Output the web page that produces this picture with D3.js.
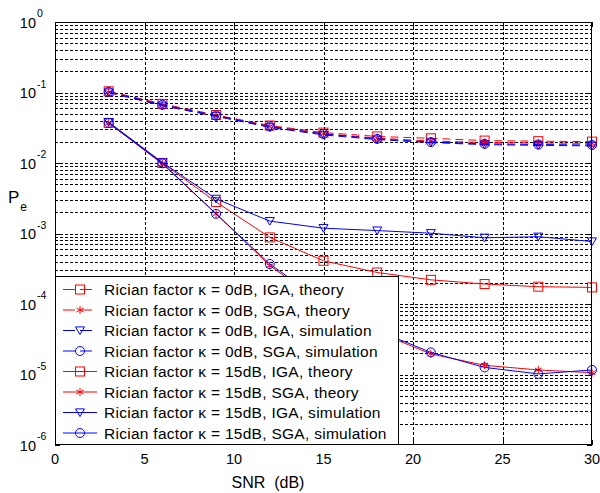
<!DOCTYPE html>
<html>
<head>
<meta charset="utf-8">
<script src="https://cdn.jsdelivr.net/npm/d3@7"></script>
<style>
  html, body { margin: 0; padding: 0; background: #fff; }
  svg { display: block; }
  text { font-family: Arial, "Liberation Sans", sans-serif; }
</style>
</head>
<body>
<svg id="chart" width="600" height="493"></svg>
<script>
// SNR sample points (dB)
const snr = [3, 6, 9, 12, 15, 18, 21, 24, 27, 30];

// Rician factor 0 dB
const iga0Theory = [0.104, 0.069, 0.048, 0.034, 0.027, 0.0238, 0.0224, 0.0208, 0.0204, 0.0201];
const sga0Theory = [0.101, 0.066, 0.046, 0.033, 0.026, 0.0225, 0.0205, 0.0195, 0.0192, 0.0190];
const iga0Sim    = [0.100, 0.065, 0.046, 0.032, 0.025, 0.0215, 0.0195, 0.0182, 0.0178, 0.0175];
const sga0Sim    = [0.102, 0.067, 0.047, 0.033, 0.0258, 0.022, 0.0198, 0.0187, 0.0183, 0.0180];

// Rician factor 15 dB
const iga15Theory = [0.037, 0.0100, 0.0028, 0.00088, 0.00041, 0.00028, 0.00022, 0.000192, 0.000176, 0.000172];
const sga15Theory = [0.037, 0.0097, 0.0019, 0.00035, 0.000100, 0.000040, 0.0000196, 0.0000135, 0.0000116, 0.0000106];
const iga15Sim    = [0.038, 0.0102, 0.0031, 0.0015, 0.00119, 0.0011, 0.00101, 0.00087, 0.00090, 0.00077];
const sga15Sim    = [0.037, 0.0099, 0.0019, 0.00037, 0.000105, 0.000042, 0.0000206, 0.0000126, 0.0000102, 0.0000116];

// Axis ticks
const xTicks = [0, 5, 10, 15, 20, 25, 30];
const yExponents = [0, -1, -2, -3, -4, -5, -6];

const legendLabels = [
  "Rician factor \u03ba = 0dB, IGA, theory",
  "Rician factor \u03ba = 0dB, SGA, theory",
  "Rician factor \u03ba = 0dB, IGA, simulation",
  "Rician factor \u03ba = 0dB, SGA, simulation",
  "Rician factor \u03ba = 15dB, IGA, theory",
  "Rician factor \u03ba = 15dB, SGA, theory",
  "Rician factor \u03ba = 15dB, IGA, simulation",
  "Rician factor \u03ba = 15dB, SGA, simulation"
];

const RED = "#ff0000", BLUE = "#0000ff";
const series = [
  { values: iga0Theory,  color: RED,  marker: "square",   dashed: true },
  { values: sga0Theory,  color: RED,  marker: "star",     dashed: true },
  { values: iga0Sim,     color: BLUE, marker: "triangle", dashed: true },
  { values: sga0Sim,     color: BLUE, marker: "circle",   dashed: true },
  { values: iga15Theory, color: RED,  marker: "square",   dashed: false },
  { values: sga15Theory, color: RED,  marker: "star",     dashed: false },
  { values: iga15Sim,    color: BLUE, marker: "triangle", dashed: false },
  { values: sga15Sim,    color: BLUE, marker: "circle",   dashed: false }
];

const svg = d3.select("#chart");
const L = 55, R = 592, T = 22, B = 445;

const x = d3.scaleLinear().domain([0, 30]).range([L, R]);
const y = d3.scaleLog().domain([1e-6, 1]).range([B, T]);

// grid
const grid = svg.append("g").attr("stroke", "#000").attr("stroke-width", 1)
  .attr("stroke-dasharray", "3,2").attr("fill", "none");
const yGrid = [];
for (let e = -6; e < 0; e++) for (let m = 1; m <= 9; m++) yGrid.push(m * Math.pow(10, e));
yGrid.filter(v => v > 1e-6 && v < 1).forEach(v => {
  const yy = Math.round(y(v)) + 0.5;
  grid.append("line").attr("x1", L).attr("x2", R).attr("y1", yy).attr("y2", yy);
});
xTicks.slice(1, -1).forEach(v => {
  const xx = Math.round(x(v)) + 0.5;
  grid.append("line").attr("x1", xx).attr("x2", xx).attr("y1", T).attr("y2", B);
});

// marker drawing
function drawMarker(g, type, cx, cy, color) {
  const s = 4.5;
  if (type === "square") {
    g.append("rect").attr("x", cx - s).attr("y", cy - s).attr("width", 2 * s).attr("height", 2 * s)
      .attr("fill", "none").attr("stroke", color);
  } else if (type === "circle") {
    g.append("circle").attr("cx", cx).attr("cy", cy).attr("r", s)
      .attr("fill", "none").attr("stroke", color);
  } else if (type === "triangle") {
    g.append("path").attr("d", `M${cx - s},${cy - s * 0.8}L${cx + s},${cy - s * 0.8}L${cx},${cy + s * 0.9}Z`)
      .attr("fill", "none").attr("stroke", color);
  } else if (type === "star") {
    const r = 4;
    const d = `M${cx},${cy - r}L${cx},${cy + r}` +
      `M${cx - r * 0.87},${cy - r * 0.5}L${cx + r * 0.87},${cy + r * 0.5}` +
      `M${cx - r * 0.87},${cy + r * 0.5}L${cx + r * 0.87},${cy - r * 0.5}`;
    g.append("path").attr("d", d).attr("stroke", color).attr("fill", "none");
  }
}

const line = d3.line().x((d, i) => x(snr[i])).y(d => y(d));
const plot = svg.append("g");
series.forEach(s => {
  plot.append("path").datum(s.values).attr("d", line)
    .attr("fill", "none").attr("stroke", s.color).attr("stroke-width", 1)
    .attr("stroke-dasharray", s.dashed ? "8,5" : null);
  const mg = plot.append("g");
  s.values.forEach((v, i) => drawMarker(mg, s.marker, x(snr[i]), y(v), s.color));
});

// axes box and ticks
svg.append("rect").attr("x", L + 0.5).attr("y", T + 0.5).attr("width", R - L - 1).attr("height", B - T - 1)
  .attr("fill", "none").attr("stroke", "#000");
const ticks = svg.append("g").attr("stroke", "#000");
xTicks.forEach(v => {
  const xx = Math.round(x(v)) + 0.5;
  ticks.append("line").attr("x1", xx).attr("x2", xx).attr("y1", B).attr("y2", B - 5);
  ticks.append("line").attr("x1", xx).attr("x2", xx).attr("y1", T).attr("y2", T + 5);
});
yExponents.forEach(e => {
  const yy = Math.round(y(Math.pow(10, e))) + 0.5;
  ticks.append("line").attr("x1", L).attr("x2", L + 5).attr("y1", yy).attr("y2", yy);
  ticks.append("line").attr("x1", R - 5).attr("x2", R).attr("y1", yy).attr("y2", yy);
});

// tick labels
svg.append("g").selectAll("text").data(xTicks).join("text")
  .attr("x", d => x(d)).attr("y", 464).attr("text-anchor", "middle")
  .attr("font-size", 14.5).attr("fill", "#000").text(d => d);

const yl = svg.append("g");
yExponents.forEach(e => {
  const yy = y(Math.pow(10, e));
  yl.append("text").attr("x", 36).attr("y", yy + 5.5).attr("text-anchor", "end")
    .attr("font-size", 14.5).attr("fill", "#000").text("10");
  yl.append("text").attr("x", 37).attr("y", yy - 5).attr("font-size", 10.5).attr("fill", "#000").text(e);
});

// axis titles
svg.append("text").attr("x", 268).attr("y", 488).attr("text-anchor", "middle")
  .attr("font-size", 16).attr("fill", "#000").attr("xml:space", "preserve").text("SNR  (dB)");
const pl = svg.append("text").attr("x", 8).attr("y", 203).attr("font-size", 17).attr("fill", "#000");
pl.append("tspan").text("P");
pl.append("tspan").attr("dx", 1).attr("dy", 8).attr("font-size", 12).text("e");

// legend
const lg = svg.append("g");
lg.append("rect").attr("x", 55.5).attr("y", 276.5).attr("width", 343).attr("height", 168)
  .attr("fill", "#fff").attr("stroke", "#000");
series.forEach((s, i) => {
  const yy = 289.5 + i * 20.5;
  lg.append("line").attr("x1", 63).attr("x2", 97).attr("y1", yy).attr("y2", yy)
    .attr("stroke", s.color).attr("stroke-dasharray", s.dashed ? "12,5" : null);
  drawMarker(lg, s.marker, 80, yy, s.color);
  lg.append("text").attr("x", 104).attr("y", yy + 5.5).attr("font-size", 15.5)
    .attr("letter-spacing", 0.28).attr("fill", "#000")
    .text(legendLabels[i]);
});
</script>
</body>
</html>
